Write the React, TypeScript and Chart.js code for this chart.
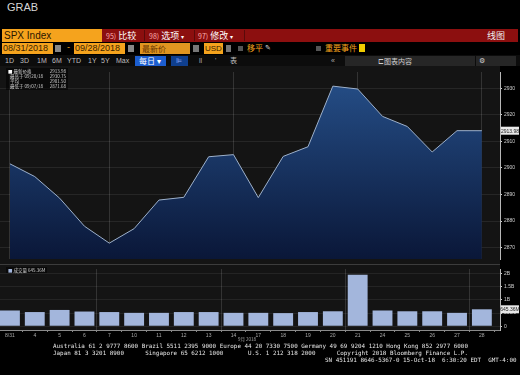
import React, { useEffect, useRef } from "react";
import { Chart, registerables } from "chart.js";
Chart.register(...registerables);

const dates = ["8/31", "4", "5", "6", "7", "10", "11", "12", "13", "14", "17", "18", "19", "20", "21", "24", "25", "26", "27", "28"];
const closes = [2901.52, 2896.72, 2888.6, 2878.05, 2871.68, 2877.13, 2887.89, 2888.92, 2904.18, 2904.98, 2888.8, 2904.31, 2907.95, 2930.75, 2929.67, 2919.37, 2915.56, 2905.97, 2914.0, 2913.98];
const volumes = [0.6, 0.54, 0.62, 0.56, 0.54, 0.51, 0.51, 0.54, 0.54, 0.51, 0.51, 0.5, 0.54, 0.57, 1.96, 0.6, 0.57, 0.57, 0.51, 0.645];
const priceTicks = [2870, 2880, 2890, 2900, 2910, 2920, 2930];
const volumeTicks = [0, 0.5, 1, 1.5, 2];
const volumeTickLabels = ["0", "500M", "1B", "1.5B", "2B"];
const weekEnds = [0, 4, 9, 14, 19];
const lastPriceLabel = "2913.98";
const lastVolumeLabel = "645.36M";

const FONT = "'Liberation Sans', Arial, sans-serif";
const CJK = "'Noto Sans CJK SC', 'Liberation Sans', sans-serif";

function tagPlugin(id: string, value: number, label: string) {
  return {
    id,
    afterDraw(chart: any) {
      const y = chart.scales.y.getPixelForValue(value);
      const x = chart.chartArea.right + 1;
      const c = chart.ctx;
      c.save();
      c.fillStyle = "#e8e8e8";
      c.fillRect(x, y - 4, 18, 8);
      c.fillStyle = "#222";
      c.font = "5px " + FONT;
      c.textBaseline = "middle";
      c.textAlign = "center";
      c.fillText(label, x + 9, y + 0.5);
      c.restore();
    },
  };
}

const xGrid = {
  color: (ctx: any) => (ctx.tick && weekEnds.includes(ctx.tick.value) ? "#333" : "rgba(0,0,0,0)"),
  lineWidth: 1,
};

function PriceChart() {
  const ref = useRef<HTMLCanvasElement>(null);
  useEffect(() => {
    const chart = new Chart(ref.current!, {
      type: "line",
      data: {
        datasets: [
          {
            data: closes.map((v, i) => ({ x: i, y: v })),
            borderColor: "#9db1cc",
            borderWidth: 1,
            pointRadius: 0,
            tension: 0,
            fill: "start",
            backgroundColor: (ctx: any) => {
              const ca = ctx.chart.chartArea;
              if (!ca) return "#1d3f6b";
              const g = ctx.chart.ctx.createLinearGradient(0, ca.top, 0, ca.bottom);
              g.addColorStop(0, "#26508a");
              g.addColorStop(1, "#0a1738");
              return g;
            },
          },
        ],
      },
      options: {
        animation: false,
        responsive: false,
        maintainAspectRatio: false,
        layout: { padding: 0 },
        plugins: { legend: { display: false }, tooltip: { enabled: false } },
        scales: {
          x: {
            type: "linear",
            min: -0.4,
            max: 19.73,
            afterBuildTicks: (s: any) => {
              s.ticks = dates.map((_, i) => ({ value: i }));
            },
            ticks: { display: false },
            grid: { ...xGrid, drawTicks: false },
            border: { display: false },
          },
          y: {
            position: "right",
            min: 2865.71,
            max: 2936.07,
            z: 1,
            afterBuildTicks: (s: any) => {
              s.ticks = priceTicks.map((v) => ({ value: v }));
            },
            afterFit: (s: any) => {
              s.width = 20;
            },
            ticks: { color: "#cfcfcf", font: { size: 5, family: FONT }, padding: 2, callback: (v: any) => String(v) },
            grid: { color: "rgba(255,255,255,0.08)", tickColor: "#cfcfcf", tickLength: 2 },
            border: { display: true, color: "#b8b8b8" },
          },
        },
      },
      plugins: [tagPlugin("priceTag", closes[closes.length - 1], lastPriceLabel)],
    } as any);
    return () => chart.destroy();
  }, []);
  return <canvas ref={ref} width={520} height={197} style={{ position: "absolute", left: 0, top: 67, width: 520, height: 197 }} />;
}

function VolumeChart() {
  const ref = useRef<HTMLCanvasElement>(null);
  useEffect(() => {
    const chart = new Chart(ref.current!, {
      type: "bar",
      data: {
        datasets: [
          {
            data: volumes.map((v, i) => ({ x: i, y: v })),
            backgroundColor: "#a3b6dc",
            borderWidth: 0,
            barPercentage: 0.8,
            categoryPercentage: 1,
          },
        ],
      },
      options: {
        animation: false,
        responsive: false,
        maintainAspectRatio: false,
        layout: { padding: { top: 1 } },
        plugins: { legend: { display: false }, tooltip: { enabled: false } },
        scales: {
          x: {
            type: "linear",
            min: -0.4,
            max: 19.73,
            offset: false,
            afterBuildTicks: (s: any) => {
              s.ticks = dates.map((_, i) => ({ value: i }));
            },
            afterFit: (s: any) => {
              s.height = 14;
            },
            ticks: {
              color: "#a8a8a8",
              font: { size: 5, family: FONT },
              padding: 1,
              maxRotation: 0,
              autoSkip: false,
              callback: (v: any) => dates[v] ?? "",
            },
            grid: { ...xGrid, tickColor: "#888", tickLength: 2 },
            border: { display: true, color: "#8a8a8a" },
          },
          y: {
            position: "right",
            min: -0.143,
            max: 2.179,
            afterBuildTicks: (s: any) => {
              s.ticks = volumeTicks.map((v) => ({ value: v }));
            },
            afterFit: (s: any) => {
              s.width = 20;
            },
            ticks: {
              color: "#cfcfcf",
              font: { size: 5, family: FONT },
              padding: 2,
              callback: (v: any) => volumeTickLabels[volumeTicks.indexOf(v)] ?? "",
            },
            grid: { color: "rgba(255,255,255,0.07)", tickColor: "#cfcfcf", tickLength: 2 },
            border: { display: true, color: "#b8b8b8" },
          },
        },
      },
      plugins: [tagPlugin("volTag", volumes[volumes.length - 1], lastVolumeLabel)],
    } as any);
    return () => chart.destroy();
  }, []);
  return <canvas ref={ref} width={520} height={80} style={{ position: "absolute", left: 0, top: 264, width: 520, height: 80 }} />;
}

const abs = (left: number, top: number, extra: any = {}): any => ({ position: "absolute", left, top, ...extra });

function Box({ l, t, w, h, bg, color, text, size = 9, font = FONT, align = "left", pad = 2 }: any) {
  return (
    <div style={abs(l, t, { width: w, height: h, background: bg, color, fontSize: size, fontFamily: font, lineHeight: h + "px", textAlign: align, paddingLeft: pad, boxSizing: "border-box", whiteSpace: "nowrap", overflow: "hidden" })}>
      {text}
    </div>
  );
}

export default function App() {
  const orange = "#f5a31d";
  const periods: [string, number][] = [["1D", 5], ["3D", 20], ["1M", 37], ["6M", 52], ["YTD", 67], ["1Y", 88], ["5Y", 101], ["Max", 116]];
  const mono = "'DejaVu Sans Mono', monospace";
  return (
    <div style={{ position: "fixed", left: 0, top: 0, width: 520, height: 375, background: "#000", overflow: "hidden", fontFamily: FONT }}>
      <div style={abs(7, 1, { fontSize: 11, color: "#d6d6d6" })}>GRAB</div>

      {/* row 1 */}
      <Box l={2} t={29} w={100} h={13} bg={orange} color="#2a1600" text="SPX Index" size={10} />
      <div style={abs(102, 29, { width: 416, height: 13, background: "#8c0f0f" })} />
      <div style={abs(106, 29, { fontSize: 9, lineHeight: "13px", color: "#fff", fontFamily: CJK, whiteSpace: "nowrap" })}>
        <span style={{ color: "#ffb0b0", fontSize: 7 }}>95)</span> 比较
      </div>
      <div style={abs(144, 30, { width: 1, height: 11, background: "#5a0a0a" })} />
      <div style={abs(149, 29, { fontSize: 9, lineHeight: "13px", color: "#fff", fontFamily: CJK, whiteSpace: "nowrap" })}>
        <span style={{ color: "#ffb0b0", fontSize: 7 }}>98)</span> 选项 <span style={{ fontSize: 6 }}>▾</span>
      </div>
      <div style={abs(194, 30, { width: 1, height: 11, background: "#5a0a0a" })} />
      <div style={abs(198, 29, { fontSize: 9, lineHeight: "13px", color: "#fff", fontFamily: CJK, whiteSpace: "nowrap" })}>
        <span style={{ color: "#ffb0b0", fontSize: 7 }}>97)</span> 修改 <span style={{ fontSize: 6 }}>▾</span>
      </div>
      <div style={abs(244, 30, { width: 1, height: 11, background: "#5a0a0a" })} />
      <div style={abs(487, 29, { fontSize: 9, lineHeight: "13px", color: "#eee", fontFamily: CJK })}>线图</div>

      {/* row 2 */}
      <Box l={2} t={43} w={51} h={11} bg={orange} color="#3a1e00" text="08/31/2018" size={9} pad={1} />
      <div style={abs(55, 45, { width: 6, height: 7, background: "#888" })} />
      <div style={abs(67, 42, { fontSize: 9, color: orange })}>-</div>
      <Box l={74} t={43} w={51} h={11} bg={orange} color="#3a1e00" text="09/28/2018" size={9} pad={1} />
      <div style={abs(128, 45, { width: 6, height: 7, background: "#888" })} />
      <Box l={140} t={43} w={50} h={11} bg="#e09520" color="#6a3500" text="最新价" size={8} font={CJK} />
      <div style={abs(193, 45, { width: 6, height: 7, background: "#777" })} />
      <Box l={204} t={43} w={19} h={11} bg={orange} color="#3a1e00" text="USD" size={8} pad={1} />
      <div style={abs(226, 45, { width: 5, height: 7, background: "#777" })} />
      <div style={abs(238, 46, { width: 5, height: 5, background: "#555" })} />
      <div style={abs(247, 42, { fontSize: 8, lineHeight: "12px", color: orange, fontFamily: CJK })}>移平</div>
      <div style={abs(265, 42, { fontSize: 7, lineHeight: "12px", color: "#ddd" })}>✎</div>
      <div style={abs(316, 46, { width: 5, height: 5, background: "#555" })} />
      <div style={abs(325, 42, { fontSize: 8, lineHeight: "12px", color: orange, fontFamily: CJK })}>重要事件</div>
      <div style={abs(359, 44, { width: 6, height: 8, background: "#f0cc00" })} />

      {/* row 3 */}
      <div style={abs(0, 55, { width: 520, height: 11, background: "#0c0c0c" })} />
      {periods.map(([p, x]) => (
        <div key={p} style={abs(x, 55, { fontSize: 7, lineHeight: "11px", color: "#bdbdbd" })}>{p}</div>
      ))}
      <Box l={135} t={56} w={31} h={10} bg="#1c5ed0" color="#fff" text="每日 ▾" size={8} font={CJK} pad={4} />
      <Box l={171} t={56} w={17} h={10} bg="#0f3f8e" color="#8fb0ff" text="⊫" size={7} pad={5} />
      <div style={abs(199, 55, { fontSize: 7, lineHeight: "11px", color: "#aaa" })}>ll</div>
      <div style={abs(215, 55, { fontSize: 7, lineHeight: "11px", color: "#aaa" })}>'</div>
      <div style={abs(230, 55, { fontSize: 7, lineHeight: "11px", color: "#bbb", fontFamily: CJK })}>表</div>
      <div style={abs(331, 55, { fontSize: 7, lineHeight: "11px", color: "#aaa" })}>«</div>
      <Box l={345} t={56} w={130} h={10} bg="#262626" color="#cfcfcf" text="⊏图表内容" size={7} font={CJK} pad={33} />
      <Box l={476} t={56} w={40} h={10} bg="#262626" color="#cfcfcf" text="⚙" size={7} pad={3} />

      {/* chart panel */}
      <div style={abs(0, 66, { width: 500, height: 264, background: "#141414" })} />
      <PriceChart />
      <div style={abs(0, 264, { width: 500, height: 1, background: "#3c3c3c" })} />
      <VolumeChart />

      {/* legends */}
      <div style={abs(6, 68, { width: 58, background: "rgba(0,0,0,0.55)", fontSize: 4.5, lineHeight: "5px", color: "#cfcfcf", fontFamily: CJK, padding: "1px 2px" })}>
        <div style={{ display: "flex", justifyContent: "space-between" }}><span><span style={{ color: "#fff" }}>■</span> 最新价格</span><span>2913.98</span></div>
        <div style={{ display: "flex", justifyContent: "space-between" }}><span>&nbsp;&nbsp;最高于 09/20/18</span><span>2930.75</span></div>
        <div style={{ display: "flex", justifyContent: "space-between" }}><span>&nbsp;&nbsp;平均</span><span>2901.50</span></div>
        <div style={{ display: "flex", justifyContent: "space-between" }}><span>&nbsp;&nbsp;最低于 09/07/18</span><span>2871.68</span></div>
      </div>
      <div style={abs(6, 267, { background: "rgba(0,0,0,0.55)", fontSize: 4.5, lineHeight: "6px", color: "#cfcfcf", fontFamily: CJK, padding: "0 2px", whiteSpace: "nowrap" })}>
        <span style={{ color: "#a3b6dc" }}>■</span> 成交量 645.36M
      </div>
      <div style={abs(238, 336, { fontSize: 4.5, color: "#a8a8a8", fontFamily: CJK, whiteSpace: "nowrap" })}>9月 2018</div>

      {/* footer */}
      <div style={abs(53, 343, { fontFamily: mono, fontSize: 5.9, lineHeight: "7px", color: "#e6e6e6", whiteSpace: "pre" })}>
        {"Australia 61 2 9777 8600 Brazil 5511 2395 9000 Europe 44 20 7330 7500 Germany 49 69 9204 1210 Hong Kong 852 2977 6000\n" +
          "Japan 81 3 3201 8900      Singapore 65 6212 1000       U.S. 1 212 318 2000      Copyright 2018 Bloomberg Finance L.P."}
      </div>
      <div style={abs(325, 357, { fontFamily: mono, fontSize: 5.9, lineHeight: "7px", color: "#e6e6e6", whiteSpace: "pre" })}>
        {"SN 451191 8646-5367-0 15-Oct-18  6:30:20 EDT  GMT-4:00"}
      </div>
    </div>
  );
}
